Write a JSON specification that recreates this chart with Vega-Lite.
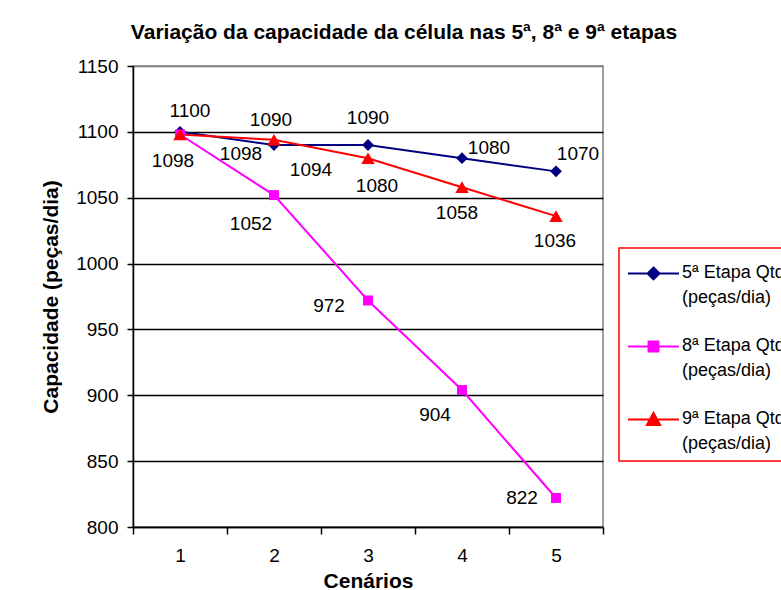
{
  "$schema": "https://vega.github.io/schema/vega-lite/v6.json",
  "width": 470,
  "height": 461,
  "autosize": "none",
  "padding": {"left": 133, "top": 66, "right": 178, "bottom": 63},
  "background": "white",
  "title": {
    "text": "Variação da capacidade da célula nas 5ª, 8ª e 9ª etapas",
    "font": "Liberation Sans",
    "fontSize": 21,
    "fontWeight": "bold",
    "color": "black",
    "anchor": "middle",
    "dx": 36,
    "offset": 14
  },
  "config": {
    "font": "Liberation Sans",
    "view": {"stroke": "#808080", "strokeWidth": 1.5},
    "axis": {"labelFont": "Liberation Sans", "titleFont": "Liberation Sans"},
    "legend": {"labelFont": "Liberation Sans"},
    "text": {"font": "Liberation Sans"}
  },
  "data": {
    "values": [
      {"cenario": 1, "serie": "5ª Etapa Qtde (peças/dia)", "valor": 1100},
      {"cenario": 2, "serie": "5ª Etapa Qtde (peças/dia)", "valor": 1090},
      {"cenario": 3, "serie": "5ª Etapa Qtde (peças/dia)", "valor": 1090},
      {"cenario": 4, "serie": "5ª Etapa Qtde (peças/dia)", "valor": 1080},
      {"cenario": 5, "serie": "5ª Etapa Qtde (peças/dia)", "valor": 1070},
      {"cenario": 1, "serie": "8ª Etapa Qtde (peças/dia)", "valor": 1098},
      {"cenario": 2, "serie": "8ª Etapa Qtde (peças/dia)", "valor": 1052},
      {"cenario": 3, "serie": "8ª Etapa Qtde (peças/dia)", "valor": 972},
      {"cenario": 4, "serie": "8ª Etapa Qtde (peças/dia)", "valor": 904},
      {"cenario": 5, "serie": "8ª Etapa Qtde (peças/dia)", "valor": 822},
      {"cenario": 1, "serie": "9ª Etapa Qtde (peças/dia)", "valor": 1098},
      {"cenario": 2, "serie": "9ª Etapa Qtde (peças/dia)", "valor": 1094},
      {"cenario": 3, "serie": "9ª Etapa Qtde (peças/dia)", "valor": 1080},
      {"cenario": 4, "serie": "9ª Etapa Qtde (peças/dia)", "valor": 1058},
      {"cenario": 5, "serie": "9ª Etapa Qtde (peças/dia)", "valor": 1036}
    ]
  },
  "encoding": {
    "x": {
      "field": "cenario",
      "type": "ordinal",
      "bandPosition": 0.5,
      "scale": {"type": "band", "paddingInner": 0, "paddingOuter": 0},
      "axis": {
        "title": "Cenários",
        "titleFontSize": 21,
        "titleFontWeight": "bold",
        "titleColor": "black",
        "titlePadding": 5,
        "labelAngle": 0,
        "labelFontSize": 19,
        "labelColor": "black",
        "labelPadding": 12,
        "tickBand": "extent",
        "tickColor": "black",
        "tickSize": 7,
        "tickWidth": 1.5,
        "domainColor": "black",
        "domainWidth": 1.5,
        "grid": false
      }
    },
    "y": {
      "field": "valor",
      "type": "quantitative",
      "scale": {"domain": [800, 1150], "nice": false, "zero": false},
      "axis": {
        "title": "Capacidade (peças/dia)",
        "titleFontSize": 21,
        "titleFontWeight": "bold",
        "titleColor": "black",
        "titlePadding": 14,
        "values": [800, 850, 900, 950, 1000, 1050, 1100, 1150],
        "format": "d",
        "labelFontSize": 19,
        "labelColor": "black",
        "labelPadding": 9,
        "tickColor": "black",
        "tickSize": 6,
        "tickWidth": 1.5,
        "domainColor": "black",
        "domainWidth": 1.5,
        "grid": true,
        "gridColor": {"condition": {"test": "datum.value == 1150", "value": "#808080"}, "value": "black"},
        "gridWidth": 1.3,
        "gridOpacity": 1
      }
    },
    "color": {
      "field": "serie",
      "type": "nominal",
      "scale": {
        "domain": ["5ª Etapa Qtde (peças/dia)", "8ª Etapa Qtde (peças/dia)", "9ª Etapa Qtde (peças/dia)"],
        "range": ["#000080", "#FF00FF", "#FF0000"]
      },
      "legend": {
        "orient": "none",
        "legendX": 486,
        "legendY": 182,
        "title": null,
        "strokeColor": "red",
        "fillColor": "white",
        "padding": 8,
        "symbolSize": 1089,
        "symbolStrokeWidth": 2,
        "labelFontSize": 18,
        "labelColor": "black",
        "labelOffset": 20,
        "labelLimit": 0,
        "labelBaseline": "top",
        "rowPadding": 22,
        "labelExpr": "[substring(datum.label, 0, indexof(datum.label, ' (')), substring(datum.label, indexof(datum.label, ' (') + 1)]",
        "encode": {
          "legend": {"update": {"strokeWidth": {"value": 1.5}}},
          "symbols": {
            "update": {
              "shape": {"signal": "indexof(datum.value, '5ª') == 0 ? 'M-1,0L2.09,0M0.545,-0.36L0.905,0L0.545,0.36L0.185,0Z' : indexof(datum.value, '8ª') == 0 ? 'M-1,0L2.09,0M0.245,-0.3L0.845,-0.3L0.845,0.3L0.245,0.3Z' : 'M-1,0L2.09,0M0.545,-0.4L0.945,0.33L0.145,0.33Z'"},
              "fill": {"signal": "scale('color', datum.value)"},
              "stroke": {"signal": "scale('color', datum.value)"},
              "strokeWidth": {"value": 2},
              "opacity": {"value": 1}
            }
          },
          "labels": {"update": {"lineHeight": {"value": 25}, "dy": {"value": -10}}}
        }
      }
    }
  },
  "layer": [
    {"mark": {"type": "line", "strokeWidth": 2}},
    {
      "transform": [{"filter": "indexof(datum.serie, '5ª') == 0"}],
      "mark": {"type": "point", "shape": "diamond", "size": 140, "filled": true, "opacity": 1}
    },
    {
      "transform": [{"filter": "indexof(datum.serie, '8ª') == 0"}],
      "mark": {"type": "point", "shape": "square", "size": 100, "filled": true, "opacity": 1}
    },
    {
      "transform": [{"filter": "indexof(datum.serie, '9ª') == 0"}],
      "mark": {"type": "point", "shape": "triangle-up", "size": 180, "filled": true, "opacity": 1}
    },
    {
      "transform": [{"filter": "indexof(datum.serie, '5ª') == 0"}],
      "mark": {
        "type": "text",
        "fontSize": 19,
        "dx": {"expr": "[10, -3, 0, 27, 22][datum.cenario - 1]"},
        "dy": {"expr": "[-21, -25, -27, -10, -17][datum.cenario - 1]"}
      },
      "encoding": {"text": {"field": "valor", "type": "quantitative"}, "color": {"value": "black"}}
    },
    {
      "transform": [{"filter": "indexof(datum.serie, '8ª') == 0"}],
      "mark": {
        "type": "text",
        "fontSize": 19,
        "dx": {"expr": "[-7, -23, -39, -27, -34][datum.cenario - 1]"},
        "dy": {"expr": "[27, 29, 6, 25, 0][datum.cenario - 1]"}
      },
      "encoding": {"text": {"field": "valor", "type": "quantitative"}, "color": {"value": "black"}}
    },
    {
      "transform": [{"filter": "indexof(datum.serie, '9ª') == 0"}],
      "mark": {
        "type": "text",
        "fontSize": 19,
        "dx": {"expr": "[61, 37, 9, -5, -1][datum.cenario - 1]"},
        "dy": {"expr": "[20, 30, 28, 26, 25][datum.cenario - 1]"}
      },
      "encoding": {"text": {"field": "valor", "type": "quantitative"}, "color": {"value": "black"}}
    }
  ]
}
